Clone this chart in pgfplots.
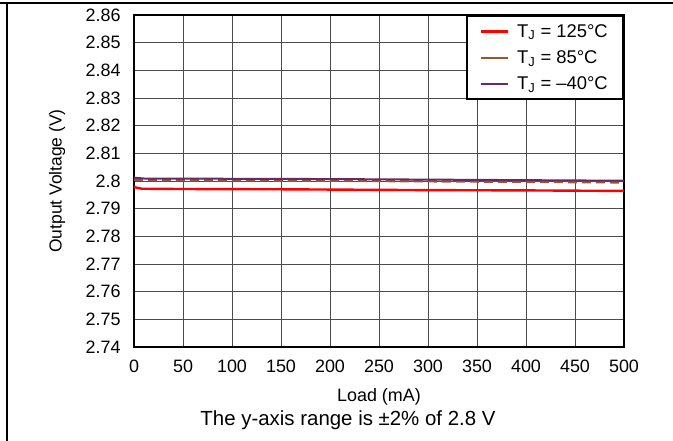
\documentclass[border=0pt]{standalone}
\usepackage{pgfplots}
\pgfplotsset{compat=1.18}
\usepackage{fontspec}
\setmainfont{Liberation Sans}
\definecolor{cred}{RGB}{255,0,0}
\definecolor{cbrown}{RGB}{150,88,48}
\definecolor{cpurple}{RGB}{108,40,100}
\begin{document}
\begin{tikzpicture}[x=1bp,y=1bp]
\useasboundingbox (0,0) rectangle (673,441);
\draw[line width=1.2bp] (0,438) -- (673,438);
\draw[line width=1.2bp] (7,0) -- (7,438);
\begin{axis}[
  at={(134bp,94bp)}, anchor=south west, scale only axis,
  width=490bp, height=332bp,
  xmin=0, xmax=500, ymin=2.74, ymax=2.86,
  xtick={0,50,100,150,200,250,300,350,400,450,500},
  ytick={2.74,2.75,2.76,2.77,2.78,2.79,2.80,2.81,2.82,2.83,2.84,2.85,2.86},
  yticklabels={2.74,2.75,2.76,2.77,2.78,2.79,2.8,2.81,2.82,2.83,2.84,2.85,2.86},
  grid=major, major grid style={black!70, line width=0.9bp},
  axis line style={line width=2.4bp},
  major tick length=0pt,
  /pgf/number format/assume math mode=true,
  tick label style={font=\fontsize{18}{20}\selectfont},
  xticklabel style={yshift=-9bp},
  yticklabel style={xshift=-10bp},
  xlabel={Load (mA)}, ylabel={Output Voltage (V)},
  every axis x label/.style={at={(axis description cs:0.5,0)}, yshift=-50bp, anchor=center, font=\fontsize{18}{20}\selectfont},
  every axis y label/.style={at={(axis description cs:0,0.5)}, xshift=-77bp, anchor=center, rotate=90, font=\fontsize{17.5}{20}\selectfont},
  legend cell align=left,
  legend style={at={(1,1)}, anchor=north east, draw=black, line width=2.4bp,
    font=\fontsize{18.5}{20}\selectfont, inner xsep=13bp, inner ysep=6bp, row sep=8bp},
  legend image code/.code={\draw[#1, solid, line width=2.4bp] (0bp,0bp) -- (27bp,0bp);},
]
\addplot[cred, line width=2.4bp] coordinates {
(0,2.7978) (8,2.7972) (50,2.7971) (150,2.7970) (250,2.7968) (300,2.7967) (400,2.7966) (450,2.7965) (500,2.7964)};
\addlegendentry{\hspace{6bp}T\textsubscript{J} = 125°C}
\addplot[cbrown, line width=2.4bp, dash pattern=on 9bp off 5bp] coordinates {
(0,2.8005) (10,2.8003) (100,2.8002) (200,2.8001) (300,2.7999) (400,2.7997) (500,2.7995)};
\addlegendentry{\hspace{6bp}T\textsubscript{J} = 85°C}
\addplot[cpurple, line width=2bp] coordinates {
(0,2.8012) (10,2.8009) (100,2.8008) (200,2.8007) (300,2.8005) (400,2.8003) (500,2.8001)};
\addlegendentry{\hspace{6bp}T\textsubscript{J} = –40°C}
\end{axis}
\node[font=\fontsize{20.5}{24}\selectfont] at (348,21) {The y-axis range is ±2\% of 2.8 V};
\end{tikzpicture}
\end{document}
